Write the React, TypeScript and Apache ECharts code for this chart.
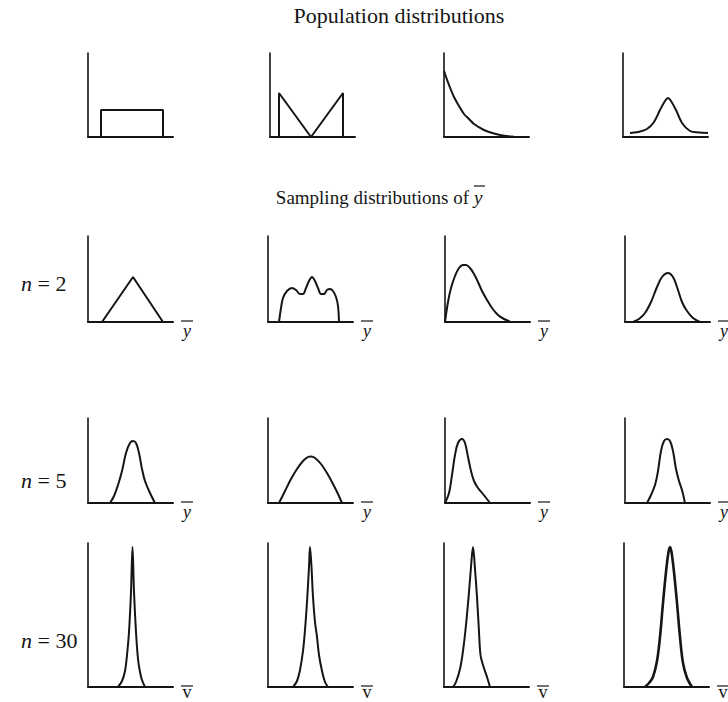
import React, { useEffect, useRef } from "react";
import * as echarts from "echarts";

// ---- Text ----
const populationTitle = "Population distributions";
const samplingTitle = "Sampling distributions of";
const rowLabelNumbers = ["2", "5", "30"];
const axisLetters = ["y", "y", "v"]; // letter under each sampling row's x-axis (with overbar)

// ---- Curve data (panel units: x = px along axis from origin, y = height above axis) ----
// Population distributions
const popUniform = [[13, 0], [13, 27], [75, 27], [75, 0]];
const popBimodal = [[9, 0], [9, 44], [41, 0], [73, 44], [73, 0]];
const popExponential = [[0, 66], [5, 52], [10, 40], [15, 31], [20, 23], [25, 18], [30, 13], [40, 7], [50, 3.5], [60, 1.3], [70, 0.3]];
const popNormal = [[7, 4], [15, 5], [24, 8], [31, 15], [37, 27], [42, 36], [45, 39], [48, 36], [53, 27], [59, 14], [67, 6], [76, 4.5], [85, 4]];

// n = 2
const n2Uniform = [[14, 0], [45, 45], [75, 0]];
const n2Bimodal = [[11, 0], [13, 14], [15, 24], [19, 31], [24, 34], [28, 32], [32, 28], [35, 28], [38, 34], [41, 41], [44, 45], [47, 41], [50, 34], [53, 28], [56, 28], [59, 32], [62, 33], [65, 31], [68, 25], [70, 16], [71, 0]];
const n2Exponential = [[0, 0], [3, 20], [6, 34], [10, 46], [14, 54], [18, 57], [21, 57], [25, 54], [29, 48], [33, 40], [37, 31], [42, 22], [47, 14], [53, 7], [59, 3], [65, 0.5]];
const n2Normal = [[8, 0], [14, 3], [20, 9], [26, 20], [32, 35], [37, 45], [43, 49], [48, 45], [52, 35], [57, 20], [62, 11], [68, 4], [75, 0]];

// n = 5
const n5Uniform = [[22, 0], [26, 7], [30, 18], [34, 32], [38, 50], [42, 60], [45, 62], [48, 60], [51, 50], [54, 34], [57, 22], [62, 10], [67, 0]];
const n5Bimodal = [[11, 0], [17, 12], [23, 24], [29, 34], [35, 42], [40, 46], [43, 46.5], [47, 45], [53, 39], [59, 30], [65, 19], [70, 9], [74, 0]];
const n5Exponential = [[0, 0], [4, 10], [7, 28], [10, 48], [13, 60], [17, 64], [20, 60], [23, 46], [26, 32], [29, 22], [33, 15], [38, 9], [45, 0]];
const n5Normal = [[22, 0], [26, 8], [30, 18], [33, 32], [36, 52], [39, 62], [42, 64], [45, 62], [48, 52], [51, 34], [54, 22], [57, 13], [60, 0]];

// n = 30
const n30Uniform = [[30, 0], [34, 6], [37, 16], [39, 32], [41, 55], [43, 95], [44.5, 140], [46, 95], [48, 55], [50, 28], [52, 15], [54, 7], [57, 0]];
const n30Bimodal = [[25, 0], [29, 6], [32, 17], [35, 36], [37, 57], [39, 85], [41, 120], [42, 140], [43.5, 120], [45, 90], [47, 65], [49, 50], [51, 32], [54, 16], [57, 5], [60, 0]];
const n30Exponential = [[9, 0], [12, 5], [16, 18], [19, 36], [22, 62], [25, 95], [27, 120], [29, 140], [31, 118], [33, 90], [35, 55], [36.5, 32], [39, 22], [43, 10], [46, 0]];
const n30Normal = [[21, 0], [25, 4], [29, 10], [33, 26], [36, 50], [39, 84], [42, 115], [44.5, 135], [46, 140], [47.5, 135], [50, 115], [53, 84], [56, 50], [59, 24], [63, 9], [68, 0]];

// ---- Layout ----
const PANEL_W = 85;
const ROWS = [
  { top: 53, h: 84, lefts: [88, 270, 444, 623] },
  { top: 236, h: 86, lefts: [88, 268, 445, 625] },
  { top: 418, h: 85, lefts: [88, 268, 445, 625] },
  { top: 543, h: 144, lefts: [88, 268, 444, 624] },
];
const ROW_DATA = [
  [popUniform, popBimodal, popExponential, popNormal],
  [n2Uniform, n2Bimodal, n2Exponential, n2Normal],
  [n5Uniform, n5Bimodal, n5Exponential, n5Normal],
  [n30Uniform, n30Bimodal, n30Exponential, n30Normal],
];
const SMOOTH = [
  [false, false, true, true],
  [false, true, true, true],
  [true, true, true, true],
  [true, true, true, true],
];
const ROW_LABEL_Y = [283, 480, 640];

const SERIF = "'Liberation Serif', 'Times New Roman', serif";
const INK = "#151515";

export default function App() {
  const ref = useRef<HTMLDivElement>(null);

  useEffect(() => {
    document.body.style.margin = "0";
    if (!ref.current) return;
    const chart = echarts.init(ref.current, null, { renderer: "svg" });

    const grid: any[] = [];
    const xAxis: any[] = [];
    const yAxis: any[] = [];
    const series: any[] = [];
    const graphic: any[] = [];

    ROWS.forEach((row, r) => {
      row.lefts.forEach((left, c) => {
        const i = grid.length;
        grid.push({ left, top: row.top, width: PANEL_W, height: row.h, containLabel: false });
        xAxis.push({
          gridIndex: i, type: "value", min: 0, max: PANEL_W,
          axisLine: { show: true, onZero: false, lineStyle: { color: INK, width: 2 } },
          axisTick: { show: false }, axisLabel: { show: false }, splitLine: { show: false },
        });
        yAxis.push({
          gridIndex: i, type: "value", min: 0, max: row.h,
          axisLine: { show: true, onZero: false, lineStyle: { color: INK, width: 1.6 } },
          axisTick: { show: false }, axisLabel: { show: false }, splitLine: { show: false },
        });
        series.push({
          type: "line", xAxisIndex: i, yAxisIndex: i,
          data: ROW_DATA[r][c], showSymbol: false, symbol: "none",
          smooth: SMOOTH[r][c] ? 0.35 : false, clip: false,
          lineStyle: { color: INK, width: r === 3 && c === 3 ? 2.6 : 2 },
          silent: true,
        });
        if (r > 0) {
          const baseline = row.top + row.h;
          const cx = left + 99;
          graphic.push({
            type: "line", shape: { x1: cx - 6, y1: baseline - 1, x2: cx + 6, y2: baseline - 1 },
            style: { stroke: INK, lineWidth: 1.2 },
          });
          const last = r === 3;
          graphic.push({
            type: "text", x: cx, y: last ? 701 : baseline + 9,
            style: {
              text: axisLetters[r - 1], fill: INK,
              font: `${last ? "normal" : "italic"} 18px ${SERIF}`,
              textAlign: "center", align: "center",
              textVerticalAlign: last ? "bottom" : "middle", verticalAlign: last ? "bottom" : "middle",
            },
          });
        }
      });
    });

    // Titles
    graphic.push({
      type: "text", x: 399, y: 15,
      style: {
        text: populationTitle, fill: INK, font: `22px ${SERIF}`,
        textAlign: "center", textVerticalAlign: "middle", align: "center", verticalAlign: "middle",
      },
    });
    graphic.push({
      type: "text", x: 469, y: 197,
      style: {
        text: samplingTitle, fill: INK, font: `19px ${SERIF}`,
        textAlign: "right", textVerticalAlign: "middle", align: "right", verticalAlign: "middle",
      },
    });
    graphic.push({
      type: "text", x: 474, y: 197,
      style: {
        text: "y", fill: INK, font: `italic 19px ${SERIF}`,
        textAlign: "left", textVerticalAlign: "middle", align: "left", verticalAlign: "middle",
      },
    });
    graphic.push({
      type: "line", shape: { x1: 474, y1: 186, x2: 485, y2: 186 },
      style: { stroke: INK, lineWidth: 1.2 },
    });

    // Row labels n = ...
    rowLabelNumbers.forEach((num, k) => {
      graphic.push({
        type: "text", x: 21, y: ROW_LABEL_Y[k],
        style: {
          text: `{i|n} = ${num}`, fill: INK, font: `22px ${SERIF}`,
          textAlign: "left", textVerticalAlign: "middle", align: "left", verticalAlign: "middle",
          rich: {
            i: { fontStyle: "italic", fontFamily: SERIF, fontSize: 22, fill: INK, color: INK },
          },
        },
      });
    });

    chart.setOption({
      animation: false,
      backgroundColor: "#ffffff",
      grid, xAxis, yAxis, series, graphic,
    });

    return () => chart.dispose();
  }, []);

  return <div ref={ref} style={{ width: 728, height: 702 }} />;
}
